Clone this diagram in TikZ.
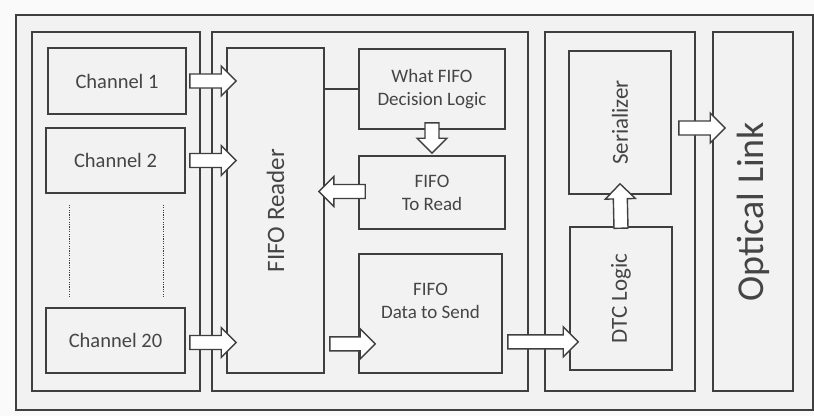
\documentclass[tikz,border=0pt]{standalone}
\usepackage{fontspec}
\setmainfont{Carlito}
\usetikzlibrary{calc}
\definecolor{linec}{HTML}{3F3F3F}
\definecolor{boxfill}{HTML}{F2F2F2}
\definecolor{bgc}{HTML}{FAFAFA}
\definecolor{textc}{HTML}{454545}
\newcommand\fatarrow[2]{%
  \path let \p1=($(#2)-(#1)$), \n1={atan2(\y1,\x1)}, \n2={veclen(\x1,\y1)} in
    \pgfextra{\xdef\faang{\n1}\xdef\falen{\n2}};
  \begin{scope}[shift={(#1)}, rotate=\faang]
    \draw[fat] (0,-7) -- ({\falen-15},-7) -- ({\falen-15},-15) -- (\falen,0)
      -- ({\falen-15},15) -- ({\falen-15},7) -- (0,7) -- cycle;
  \end{scope}}
\newcommand\blk[7]{\node[box,#6,minimum width={#4-#2},minimum height={#5-#3}] (#1) at ({(#2+#4)/2},{(#3+#5)/2}) {#7};}
\newcommand\blkr[7]{\node[box,#6,rotate=90,minimum width={#5-#3},minimum height={#4-#2}] (#1) at ({(#2+#4)/2},{(#3+#5)/2}) {#7};}
\begin{document}
\begin{tikzpicture}[x=1pt,y=-1pt,
  box/.style={draw=linec, line width=1.6pt, fill=boxfill, inner sep=0pt, text=textc, align=center},
  fat/.style={draw=linec, fill=white, line width=1.4pt, line join=miter},
  chtxt/.style={font=\fontsize{20.5}{24}\selectfont},
  intxt/.style={font=\fontsize{19}{23}\selectfont},
  midtxt/.style={font=\fontsize{23}{27}\selectfont},
  bigtxt/.style={font=\fontsize{25}{30}\selectfont},
  hugetxt/.style={font=\fontsize{38}{44}\selectfont}]
\useasboundingbox (0,0) rectangle (814,416);
\fill[bgc] (0,0) rectangle (814,416);
% frames
\blk{frame}{16}{15}{813}{410}{}{}
\blk{left}{32}{32}{200}{391}{}{}
\blk{mid}{212}{32}{528}{391}{}{}
\blk{dtcp}{545}{32}{695}{391}{}{}
\blkr{opt}{713}{32}{793}{391}{hugetxt}{Optical Link}
% channels
\blk{ch1}{48}{48}{186}{114}{chtxt}{Channel 1}
\blk{ch2}{46}{128}{185}{193}{chtxt}{Channel 2}
\blk{ch20}{46}{308}{185}{373}{chtxt}{Channel 20}
\draw[linec, line width=1.2pt, dash pattern=on 1.2pt off 1.2pt] ($(ch2.south west)+(24,11)$) -- ($(ch20.north west)+(24,-11)$);
\draw[linec, line width=1.2pt, dash pattern=on 1.2pt off 1.2pt] ($(ch2.south east)+(-22,11)$) -- ($(ch20.north east)+(-22,-11)$);
% middle
\blkr{reader}{227}{48}{324}{373}{bigtxt}{FIFO Reader}
\blk{what}{359}{49}{505}{129}{intxt}{What FIFO\\Decision Logic}
\blk{toread}{359}{156}{505}{229}{intxt}{FIFO\\To Read}
\blk{data}{359}{254}{502}{373}{}{}
\node[intxt, text=textc, align=center] (datatxt) at ($(data.center)+(0,-13)$) {FIFO\\Data to Send};
\draw[linec, line width=1.6pt] (what.west) -- (what.west -| reader.south);
% right
\blkr{ser}{569}{51}{671}{194}{midtxt}{Serializer}
\blkr{dtc}{570}{227}{672}{370}{midtxt}{DTC Logic}
% arrow end points (rotated nodes: north=left, south=right, east=top, west=bottom)
\coordinate (a1s) at ($(ch1.east)+(3,0)$);
\coordinate (a1e) at ($(reader.north|-ch1.east)+(10,0)$);
\coordinate (a2s) at ($(ch2.east)+(4,0)$);
\coordinate (a2e) at ($(reader.north|-ch2.east)+(10,0)$);
\coordinate (a3s) at ($(ch20.east)+(4,2)$);
\coordinate (a3e) at ($(reader.north|-a3s)+(10,0)$);
\coordinate (a4s) at ($(reader.south|-data.south)+(5,-30)$);
\coordinate (a4e) at ($(data.west|-a4s)+(17,0)$);
\coordinate (a5s) at ($(toread.west)+(7,-1)$);
\coordinate (a5e) at ($(reader.south|-a5s)+(-6,0)$);
\coordinate (a6s) at ($(what.south)+(0,-7)$);
\coordinate (a6e) at ($(toread.north)+(0,-2)$);
\coordinate (a7s) at ($(data.east|-a4s)+(5,-2)$);
\coordinate (a7e) at ($(dtc.north|-a7s)+(9,0)$);
\coordinate (a8s) at ($(dtc.east)+(0,2)$);
\coordinate (a8e) at ($(ser.west)+(0,-11)$);
\coordinate (a9s) at ($(ser.south)+(7,5.5)$);
\coordinate (a9e) at ($(opt.north|-a9s)+(13,0)$);
\fatarrow{a1s}{a1e}
\fatarrow{a2s}{a2e}
\fatarrow{a3s}{a3e}
\fatarrow{a4s}{a4e}
\fatarrow{a5s}{a5e}
\fatarrow{a6s}{a6e}
\fatarrow{a7s}{a7e}
\fatarrow{a8s}{a8e}
\fatarrow{a9s}{a9e}
\end{tikzpicture}
\end{document}
